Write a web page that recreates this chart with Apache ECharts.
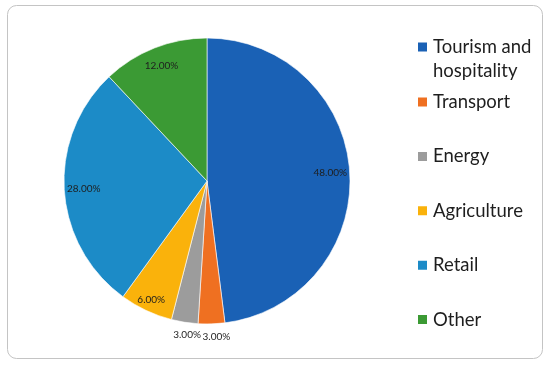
<!DOCTYPE html>
<html>
<head>
<meta charset="utf-8">
<script src="https://cdn.jsdelivr.net/npm/echarts@6/dist/echarts.min.js"></script>
<style>
html,body{margin:0;padding:0;background:#fff;}
#c{width:550px;height:367px;}
</style>
</head>
<body>
<div id="c"></div>
<script>
const categories = ['Tourism and hospitality', 'Transport', 'Energy', 'Agriculture', 'Retail', 'Other'];
const values = [48, 3, 3, 6, 28, 12];
const colors = ['#1a61b5', '#ef7021', '#9c9c9c', '#fab20b', '#1c8bc7', '#3b9a34'];

// which ring each percentage label sits on (styling, not data)
const labelRing = { 'Transport': 'outer', 'Energy': 'outer', 'Agriculture': 'mid' };
const rings = { inner: [98, 143], mid: [113, 143], outer: [145, 161] };

const FONT = 'Lato';
const center = [207, 181];

const pieData = categories.map((c, i) => ({ name: c, value: values[i], itemStyle: { color: colors[i] } }));

function labelSeries(ringName) {
  return {
    type: 'pie',
    silent: true,
    center: center,
    radius: rings[ringName],
    startAngle: 90,
    clockwise: true,
    avoidLabelOverlap: false,
    animation: false,
    itemStyle: { color: 'rgba(0,0,0,0)', borderWidth: 0 },
    emphasis: { disabled: true },
    labelLine: { show: false },
    label: {
      show: true,
      position: 'inside',
      fontFamily: FONT,
      fontSize: 10,
      color: '#1e1e1e',
      padding: ringName === 'outer' ? [0, 0, 0, 9] : 0,
      formatter: p => ((labelRing[p.name] || 'inner') === ringName ? p.percent.toFixed(2) + '%' : '')
    },
    data: categories.map((c, i) => ({ name: c, value: values[i] }))
  };
}

// square at the top of a tall box so the marker lines up with the first text line
const topSquareIcon = 'path://M0,0L11,0L11,11L0,11Z M0,34.99L0.01,34.99L0.01,35L0,35Z';

const chart = echarts.init(document.getElementById('c'), null, { renderer: 'canvas' });
chart.setOption({
  backgroundColor: '#ffffff',
  animation: false,
  graphic: [{
    type: 'rect',
    shape: { x: 7.5, y: 5.5, width: 535, height: 353, r: 9 },
    style: { fill: 'none', stroke: '#c4c4c4', lineWidth: 1 },
    silent: true,
    z: -10
  }],
  legend: [{
    orient: 'vertical',
    left: 416,
    top: 35,
    padding: 0,
    icon: topSquareIcon,
    itemWidth: 11,
    itemHeight: 35,
    itemGap: 0,
    data: [categories[0]],
    formatter: name => name.replace(' and ', ' and\n'),
    textStyle: { fontFamily: FONT, fontSize: 18.5, color: '#1e1e1e', lineHeight: 24 },
    selectedMode: false
  }, {
    orient: 'vertical',
    left: 416,
    top: 92,
    padding: 0,
    icon: 'rect',
    itemWidth: 11,
    itemHeight: 11,
    itemGap: 34.4,
    data: categories.slice(1),
    textStyle: { fontFamily: FONT, fontSize: 18.5, color: '#1e1e1e', lineHeight: 20 },
    selectedMode: false
  }],
  series: [{
    type: 'pie',
    center: center,
    radius: 143,
    startAngle: 90,
    clockwise: true,
    avoidLabelOverlap: false,
    itemStyle: { borderColor: '#ffffff', borderWidth: 0.6 },
    label: { show: false },
    labelLine: { show: false },
    emphasis: { disabled: true },
    data: pieData
  },
  labelSeries('inner'),
  labelSeries('mid'),
  labelSeries('outer')]
});
</script>
</body>
</html>
